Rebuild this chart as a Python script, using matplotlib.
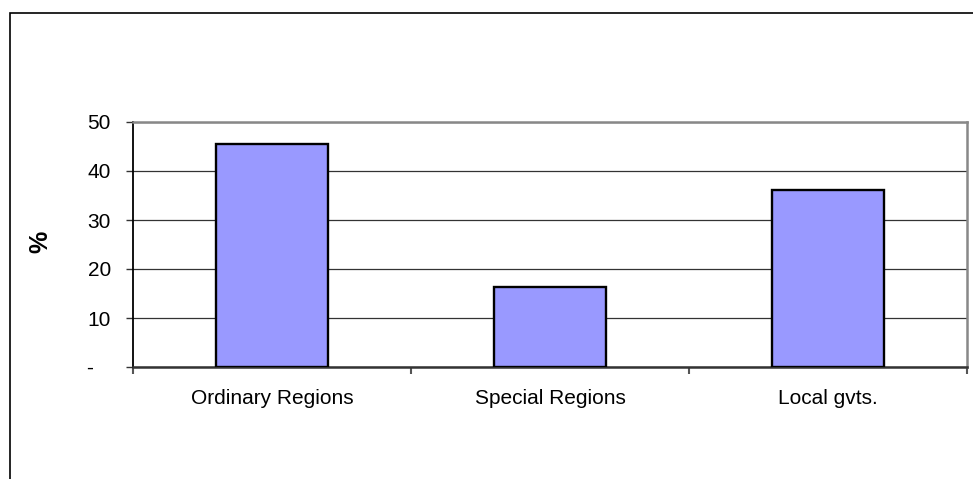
import matplotlib.pyplot as plt
from matplotlib.patches import Rectangle

plt.rcParams['font.family'] = ['Liberation Sans', 'DejaVu Sans']

categories = ['Ordinary Regions', 'Special Regions', 'Local gvts.']
shares = [45.6, 16.3, 36.1]
y_ticks = [0, 10, 20, 30, 40, 50]
y_tick_labels = ['-   ', '10', '20', '30', '40', '50']

W, H = 973, 479
fig = plt.figure(figsize=(W / 100, H / 100), dpi=100)
ax = fig.add_axes([133 / W, 1 - 367 / H, (967 - 133) / W, (367 - 122) / H])

# outer chart border (runs off the right and bottom edges)
fig.patches.append(Rectangle((9.5 / W, -0.2), 2, 1 - 13 / H + 0.2, transform=fig.transFigure,
                             fill=False, edgecolor='black', linewidth=1.2))

positions = range(len(categories))
ax.bar(positions, shares, width=0.4, color='#9999ff', edgecolor='black', linewidth=1.7, zorder=3)

ax.set_xlim(-0.5, len(categories) - 0.5)
ax.set_ylim(0, 50)
ax.set_yticks(y_ticks)
ax.set_yticklabels(y_tick_labels)
ax.set_xticks(positions)
ax.set_xticklabels(categories)
ax.set_xticks([-0.5, 0.5, 1.5, 2.5], minor=True)

ax.yaxis.grid(True, color='#333333', linewidth=0.9, zorder=0)
ax.tick_params(axis='y', length=5, width=1, pad=11, labelsize=15, color='#333333')
ax.tick_params(axis='x', which='major', length=0, pad=16, labelsize=15)
ax.tick_params(axis='x', which='minor', length=5, width=1.5, color='#555555')

ax.spines['left'].set_color('black')
ax.spines['left'].set_linewidth(1.3)
ax.spines['bottom'].set_color('#333333')
ax.spines['bottom'].set_linewidth(1.8)
ax.spines['top'].set_color('#888888')
ax.spines['top'].set_linewidth(1.8)
ax.spines['right'].set_color('#888888')
ax.spines['right'].set_linewidth(1.8)

fig.text(40 / W, 1 - 242 / H, '%', rotation=90, ha='center', va='center',
         fontsize=18, fontweight='bold')

fig.savefig('out.png', dpi=100)
